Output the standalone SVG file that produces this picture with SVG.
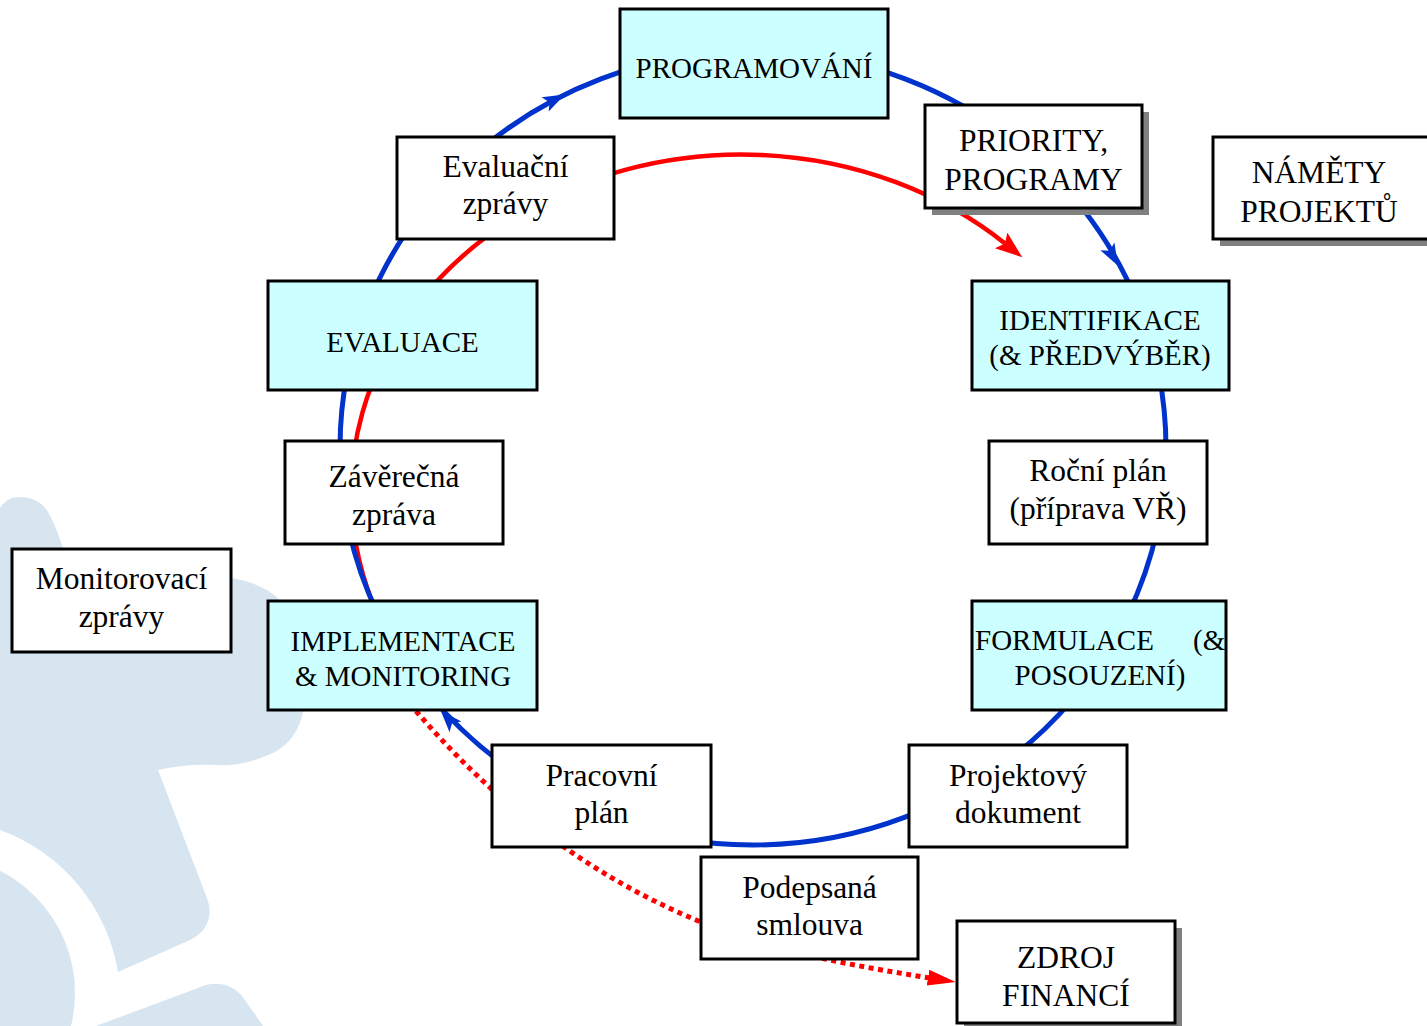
<svg xmlns="http://www.w3.org/2000/svg" xmlns:xlink="http://www.w3.org/1999/xlink" width="1427" height="1026" viewBox="0 0 1427 1026">
<style>
.box{stroke:#000;stroke-width:3;}
.cyan{fill:#CCFFFF;}
.white{fill:#FFFFFF;}
.shadow{fill:#808080;}
.t{font-family:"Liberation Serif","Times New Roman",serif;fill:#000;text-anchor:middle;}
.tc{font-size:29px;}
.tw{font-size:31.5px;}
.blue{fill:none;stroke:#0033CC;stroke-width:5;}
.red{fill:none;stroke:#FF0000;stroke-width:4.5;}
.dot{fill:none;stroke:#FF0000;stroke-width:5;stroke-dasharray:5 4.5;}
.bg{fill:#D7E5F0;}
</style>
<defs>
<marker id="redHead" markerUnits="userSpaceOnUse" markerWidth="30" markerHeight="22" refX="5" refY="10" orient="auto" viewBox="0 0 30 22">
<path d="M0,0 L27,10 L0,20 L5,10 Z" fill="#FF0000"/>
</marker>
<marker id="dotHead" markerUnits="userSpaceOnUse" markerWidth="30" markerHeight="18" refX="2" refY="8" orient="auto" viewBox="0 0 30 18">
<path d="M0,0 L28,8 L0,16 Z" fill="#FF0000"/>
</marker>
<path id="blueHead" d="M-20,-8 L2,0 L-20,8 L-15,0 Z" fill="#0033CC"/>
</defs>

<g id="background">
<path class="bg" d="M0,830 L0,508 C5,500 12,497 20,497 C32,497 42,502 48,512 C54,522 60,538 63,549 L100,600 L200,585 L232,578 C250,581 268,588 280,600 L290,615 C305,640 312,690 303,712 C298,735 285,750 263,757 C245,764 230,766 215,765 C195,764 175,766 158,770 L205,893 C214,912 210,930 190,940 L118,972 A183,183 0 0 0 0,830 Z"/>
<circle class="bg" cx="-62" cy="993" r="137"/>
<path class="bg" d="M85,1030 L198,988 C215,980 232,984 242,996 L266,1030 Z"/>
</g>

<g id="connectors">
<path class="red" d="M390.4,640 A390,338 0 0 1 1005,243.5" marker-end="url(#redHead)"/>
<path class="dot" d="M416,711 C494,802 585.4,873.6 696,920 C770,951 851,965.4 930,978" marker-end="url(#dotHead)"/>
<ellipse class="blue" cx="753" cy="448" rx="413" ry="397"/>
<use xlink:href="#blueHead" transform="translate(563,95.5) rotate(-26.5)"/>
<use xlink:href="#blueHead" transform="translate(1117,264) rotate(61.3)"/>
<use xlink:href="#blueHead" transform="translate(442,712) rotate(-132.3)"/>
</g>

<g id="programovani">
<rect class="box cyan" x="620" y="9" width="268" height="109"/>
<text class="t tc" x="754" y="78">PROGRAMOVÁNÍ</text>
</g>
<g id="priority">
<rect class="shadow" x="932" y="112" width="217" height="103"/>
<rect class="box white" x="925" y="105" width="217" height="103"/>
<text class="t tw" x="1033.5" y="151">PRIORITY,</text>
<text class="t tw" x="1033.5" y="190">PROGRAMY</text>
</g>
<g id="namety">
<rect class="shadow" x="1220" y="144" width="230" height="102"/>
<rect class="box white" x="1213" y="137" width="230" height="102"/>
<text class="t tw" x="1319" y="183">NÁMĚTY</text>
<text class="t tw" x="1319" y="222">PROJEKTŮ</text>
</g>
<g id="identifikace">
<rect class="box cyan" x="972" y="281" width="257" height="109"/>
<text class="t tc" x="1100" y="330">IDENTIFIKACE</text>
<text class="t tc" x="1100" y="365">(&amp; PŘEDVÝBĚR)</text>
</g>
<g id="rocni-plan">
<rect class="box white" x="989" y="441" width="218" height="103"/>
<text class="t tw" x="1098" y="481">Roční plán</text>
<text class="t tw" x="1098" y="519">(příprava VŘ)</text>
</g>
<g id="formulace">
<rect class="box cyan" x="972" y="601" width="254" height="109"/>
<text class="t tc" x="975" y="650" style="text-anchor:start">FORMULACE <tspan x="1193">(&amp;</tspan></text>
<text class="t tc" x="1100" y="685">POSOUZENÍ)</text>
</g>
<g id="projektovy-dokument">
<rect class="box white" x="909" y="745" width="218" height="102"/>
<text class="t tw" x="1018" y="786">Projektový</text>
<text class="t tw" x="1018" y="823">dokument</text>
</g>
<g id="podepsana-smlouva">
<rect class="box white" x="701" y="857" width="217" height="102"/>
<text class="t tw" x="809.5" y="898">Podepsaná</text>
<text class="t tw" x="809.5" y="935">smlouva</text>
</g>
<g id="zdroj-financi">
<rect class="shadow" x="964" y="928" width="218" height="102"/>
<rect class="box white" x="957" y="921" width="218" height="102"/>
<text class="t tw" x="1066" y="968">ZDROJ</text>
<text class="t tw" x="1066" y="1006">FINANCÍ</text>
</g>
<g id="pracovni-plan">
<rect class="box white" x="492" y="745" width="219" height="102"/>
<text class="t tw" x="601.5" y="786">Pracovní</text>
<text class="t tw" x="601.5" y="823">plán</text>
</g>
<g id="implementace">
<rect class="box cyan" x="268" y="601" width="269" height="109"/>
<text class="t tc" x="403" y="651">IMPLEMENTACE</text>
<text class="t tc" x="403" y="686">&amp; MONITORING</text>
</g>
<g id="monitorovaci-zpravy">
<rect class="box white" x="12" y="549" width="219" height="103"/>
<text class="t tw" x="121.5" y="589">Monitorovací</text>
<text class="t tw" x="121.5" y="627">zprávy</text>
</g>
<g id="zaverecna-zprava">
<rect class="box white" x="285" y="441" width="218" height="103"/>
<text class="t tw" x="394" y="487">Závěrečná</text>
<text class="t tw" x="394" y="525">zpráva</text>
</g>
<g id="evaluace">
<rect class="box cyan" x="268" y="281" width="269" height="109"/>
<text class="t tc" x="402.5" y="352">EVALUACE</text>
</g>
<g id="evaluacni-zpravy">
<rect class="box white" x="397" y="137" width="217" height="102"/>
<text class="t tw" x="505.5" y="177">Evaluační</text>
<text class="t tw" x="505.5" y="214">zprávy</text>
</g>
</svg>
